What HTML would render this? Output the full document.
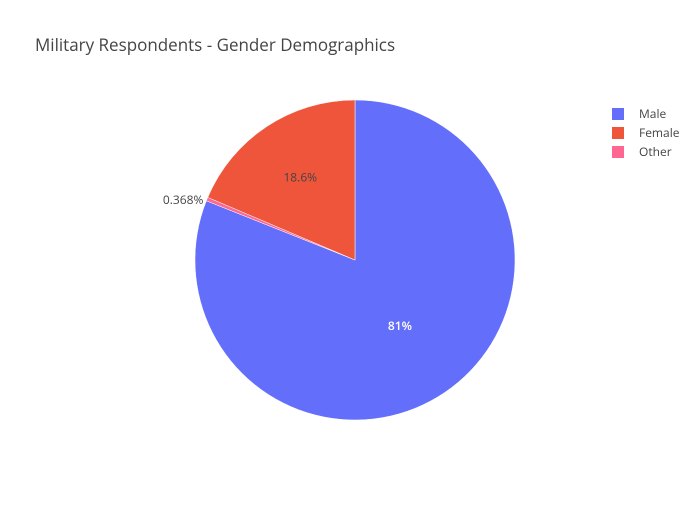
<!DOCTYPE html>
<html><head><meta charset="utf-8"><style>
body{margin:0;background:#fff;font-family:"Open Sans","Liberation Sans",sans-serif;}
svg text{font-family:"Open Sans","Liberation Sans",sans-serif;}
</style></head><body>
<svg width="700" height="500" id="chart">
<rect width="700" height="500" fill="#fff"/>
<text x="35" y="51" font-size="17" fill="#444">Military Respondents - Gender Demographics</text>
<g id="slices"></g>
<g id="legend"></g>
</svg>
<script>
const labels=["Male","Other","Female"];
const values=[81.03,0.368,18.6];
const colors=["#636efa","#ff6692","#ef553b"];
const legendOrder=["Male","Female","Other"];
const cx=355,cy=260,r=160;
const ns="http://www.w3.org/2000/svg";
const g=document.getElementById('slices');
const total=values.reduce((a,b)=>a+b,0);
let acc=0;
function pt(a,rr){return [cx+rr*Math.sin(a),cy-rr*Math.cos(a)];}
values.forEach((v,i)=>{
  const a0=acc/total*2*Math.PI;acc+=v;const a1=acc/total*2*Math.PI;
  const p0=pt(a0,r),p1=pt(a1,r);const large=(a1-a0)>Math.PI?1:0;
  const p=document.createElementNS(ns,'path');
  p.setAttribute('d',`M${cx},${cy}L${p0[0]},${p0[1]}A${r},${r} 0 ${large} 1 ${p1[0]},${p1[1]}Z`);
  p.setAttribute('fill',colors[i]);p.setAttribute('stroke','#fff');p.setAttribute('stroke-width','0.5');
  
  
  g.appendChild(p);
  const pct=v/total*100;
  const lbl=(pct>=10?(Math.round(pct*10)/10).toString():pct.toPrecision(3))+'%';
  const am=(a0+a1)/2;const t=document.createElementNS(ns,'text');
  let q;
  if(pct<2){q=pt(am,r+5);t.setAttribute('text-anchor','end');t.setAttribute('fill','#444');q[0]+=1;q[1]+=7;}
  else{q=pt(am,r*(pct>50?0.5:0.62));t.setAttribute('text-anchor','middle');t.setAttribute('fill',pct>50?'#fff':'#444');q[1]+=4;
    if(pct>50)t.setAttribute('font-weight','600');}
  t.setAttribute('x',q[0]);t.setAttribute('y',q[1]);t.setAttribute('font-size','12');
  t.textContent=lbl;
  
  
  g.appendChild(t);
});
const lg=document.getElementById('legend');
legendOrder.forEach((n,i)=>{
  const y=114+i*19;const gi=document.createElementNS(ns,'g');
  
  
  const rc=document.createElementNS(ns,'rect');
  rc.setAttribute('x',612);rc.setAttribute('y',y-6);rc.setAttribute('width',12);rc.setAttribute('height',12);
  rc.setAttribute('fill',colors[labels.indexOf(n)]);
  const t=document.createElementNS(ns,'text');
  t.setAttribute('x',639);t.setAttribute('y',y+4);t.setAttribute('font-size','12');t.setAttribute('fill','#444');
  t.textContent=n;
  gi.appendChild(rc);gi.appendChild(t);lg.appendChild(gi);
});
</script>
</body></html>
